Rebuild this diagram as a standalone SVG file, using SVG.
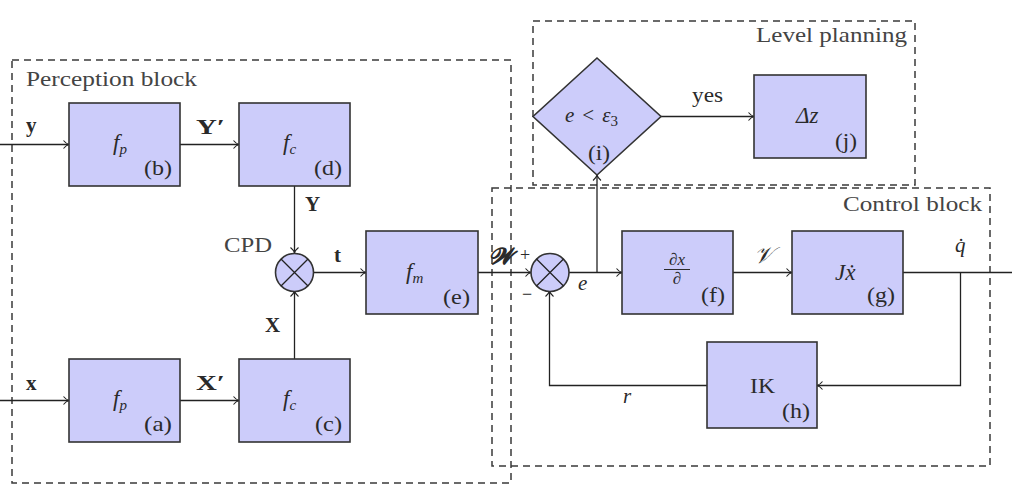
<svg xmlns="http://www.w3.org/2000/svg" width="1012" height="485" viewBox="0 0 1012 485">
<style>
.bg{fill:#ffffff}
.blk{fill:#ccccfa;stroke:#333;stroke-width:1.6}
.dash{fill:none;stroke:#3a3a3a;stroke-width:1.5;stroke-dasharray:7 5}
.ln{fill:none;stroke:#222;stroke-width:1.3}
.arr{marker-end:url(#ah)}
text{font-family:"Liberation Serif","DejaVu Serif",serif;font-size:21px;fill:#2a2a2a}
.it{font-style:italic}
.bd{font-weight:bold}
.sm{font-size:21px}
.fn{font-size:23px}
.fr{font-size:15px}
.fx{font-size:17px}
.grp{fill:#444}
</style>
<defs>
<marker id="ah" viewBox="-7 -5 8 10" refX="0" refY="0" markerWidth="8" markerHeight="10" markerUnits="userSpaceOnUse" orient="auto">
<path d="M-5.5,-4 C-3.5,-1.5 -1.5,-0.4 0,0 C-1.5,0.4 -3.5,1.5 -5.5,4" fill="none" stroke="#222" stroke-width="1.1"/>
</marker>
</defs>
<rect class="bg" x="0" y="0" width="1012" height="485"/>

<g id="frames">
<rect class="dash" x="12" y="60" width="499" height="423"/>
<rect class="dash" x="533" y="21" width="382" height="164"/>
<rect class="dash" x="492" y="188" width="498" height="278"/>
<text x="26" y="86" class="grp" textLength="171" lengthAdjust="spacingAndGlyphs">Perception block</text>
<text x="756" y="42" class="grp" textLength="151" lengthAdjust="spacingAndGlyphs">Level planning</text>
<text x="843" y="211" class="grp" textLength="139" lengthAdjust="spacingAndGlyphs">Control block</text>
</g>

<g id="connectors">
<path class="ln arr" d="M0,144.5 H69"/>
<path class="ln arr" d="M180,144.5 H239"/>
<path class="ln arr" d="M294.5,186 V253"/>
<path class="ln arr" d="M0,400.5 H69"/>
<path class="ln arr" d="M180,400.5 H239"/>
<path class="ln arr" d="M294.5,359 V291"/>
<path class="ln arr" d="M314,272.5 H366"/>
<path class="ln arr" d="M478,272.5 H531"/>
<path class="ln arr" d="M569,272.5 H622"/>
<path class="ln arr" d="M597,272.5 V175"/>
<path class="ln arr" d="M661,116.5 H754"/>
<path class="ln arr" d="M733,272.5 H792"/>
<path class="ln" d="M903,272.5 H1012"/>
<path class="ln arr" d="M960.5,272.5 V385.5 H817"/>
<path class="ln arr" d="M707,385.5 H549.5 V291"/>
<text x="26" y="132" class="bd">y</text>
<text x="196" y="134" class="bd" textLength="29" lengthAdjust="spacingAndGlyphs">Y′</text>
<text x="26" y="390" class="bd">x</text>
<text x="196" y="390" class="bd" textLength="29" lengthAdjust="spacingAndGlyphs">X′</text>
<text x="305" y="211" class="bd">Y</text>
<text x="265" y="332" class="bd">X</text>
<text x="334" y="262" class="bd">t</text>
<text x="489" y="264" class="bd it fn">𝓦</text>
<text x="520" y="261" style="font-size:18px">+</text>
<text x="522" y="300" style="font-size:18px">−</text>
<text x="578" y="290" class="it">e</text>
<text x="754" y="263" class="it fn">𝒱</text>
<text x="955" y="252" class="it">q̇</text>
<text x="623" y="403" class="it">r</text>
<text x="692" y="102" textLength="31" lengthAdjust="spacingAndGlyphs">yes</text>
<text x="224" y="252" class="grp" textLength="48" lengthAdjust="spacingAndGlyphs">CPD</text>
</g>

<g id="node-b">
<rect class="blk" x="69" y="103" width="111" height="83"/>
<text x="113" y="150" class="it fn">f<tspan class="fr" dy="4">p</tspan></text>
<text x="144" y="175" class="sm" textLength="28" lengthAdjust="spacingAndGlyphs">(b)</text>
</g>
<g id="node-d">
<rect class="blk" x="239" y="103" width="111" height="83"/>
<text x="283" y="150" class="it fn">f<tspan class="fr" dy="4">c</tspan></text>
<text x="314" y="175" class="sm" textLength="28" lengthAdjust="spacingAndGlyphs">(d)</text>
</g>
<g id="node-a">
<rect class="blk" x="69" y="359" width="111" height="83"/>
<text x="113" y="406" class="it fn">f<tspan class="fr" dy="4">p</tspan></text>
<text x="144" y="431" class="sm" textLength="28" lengthAdjust="spacingAndGlyphs">(a)</text>
</g>
<g id="node-c">
<rect class="blk" x="239" y="359" width="111" height="83"/>
<text x="283" y="406" class="it fn">f<tspan class="fr" dy="4">c</tspan></text>
<text x="315" y="431" class="sm" textLength="27" lengthAdjust="spacingAndGlyphs">(c)</text>
</g>
<g id="node-cpd">
<circle class="blk" cx="294.5" cy="272.5" r="19"/>
<path class="ln" d="M281,259 L308,286 M308,259 L281,286"/>
</g>
<g id="node-e">
<rect class="blk" x="366" y="231" width="112" height="83"/>
<text x="406" y="279" class="it fn">f<tspan class="fr" dy="4">m</tspan></text>
<text x="443" y="304" class="sm" textLength="27" lengthAdjust="spacingAndGlyphs">(e)</text>
</g>
<g id="node-sum">
<circle class="blk" cx="550" cy="272.5" r="19"/>
<path class="ln" d="M536.5,259 L563.5,286 M563.5,259 L536.5,286"/>
</g>
<g id="node-f">
<rect class="blk" x="622" y="231" width="111" height="83"/>
<text x="677" y="265" class="it fx" text-anchor="middle">∂x</text>
<path d="M664,269.5 H690" stroke="#2a2a2a" stroke-width="1"/>
<text x="677" y="284" class="it fx" text-anchor="middle">∂</text>
<text x="701" y="302" class="sm" textLength="24" lengthAdjust="spacingAndGlyphs">(f)</text>
</g>
<g id="node-g">
<rect class="blk" x="792" y="231" width="111" height="83"/>
<text x="835" y="280" class="it fn">Jẋ</text>
<text x="867" y="302" class="sm" textLength="28" lengthAdjust="spacingAndGlyphs">(g)</text>
</g>
<g id="node-h">
<rect class="blk" x="707" y="342" width="110" height="86"/>
<text x="750" y="393" textLength="25" lengthAdjust="spacingAndGlyphs">IK</text>
<text x="782" y="418" class="sm" textLength="28" lengthAdjust="spacingAndGlyphs">(h)</text>
</g>
<g id="node-i">
<polygon class="blk" points="597,58 661,116.5 597,175 533,116.5"/>
<text x="565" y="122" class="it">e<tspan font-style="normal" dx="8">&lt;</tspan><tspan dx="8">ε</tspan><tspan class="fr" font-style="normal" dy="4">3</tspan></text>
<text x="588" y="160" class="sm" textLength="22" lengthAdjust="spacingAndGlyphs">(i)</text>
</g>
<g id="node-j">
<rect class="blk" x="754" y="75" width="112" height="83"/>
<text x="796" y="123" class="it fn">Δz</text>
<text x="835" y="148" class="sm" textLength="22" lengthAdjust="spacingAndGlyphs">(j)</text>
</g>
</svg>
